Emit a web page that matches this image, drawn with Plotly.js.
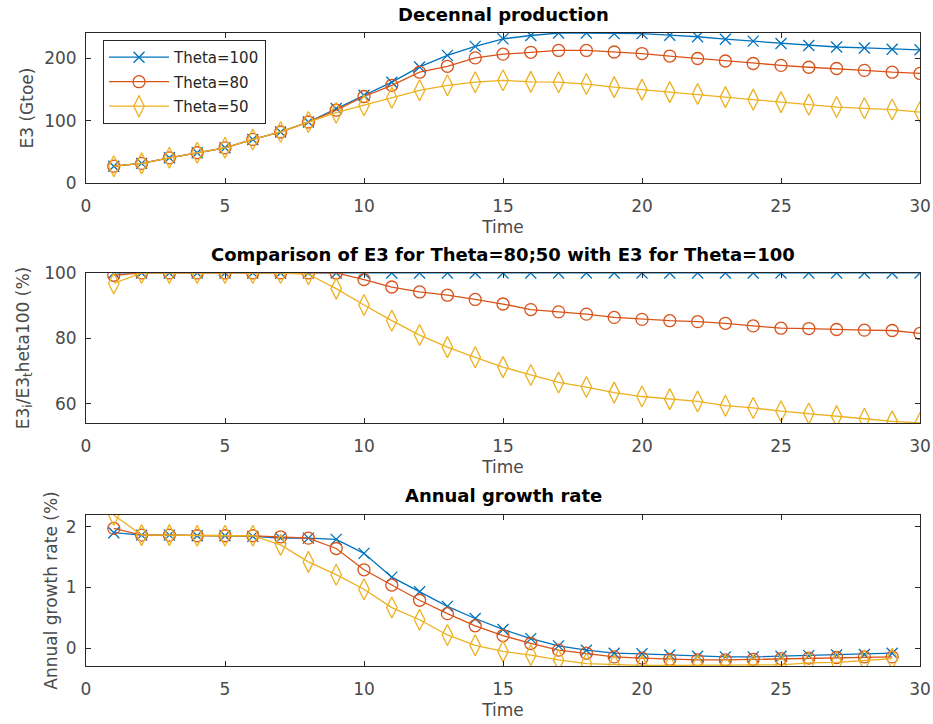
<!DOCTYPE html>
<html>
<head>
<meta charset="utf-8">
<script src="https://cdn.plot.ly/plotly-3.0.1.min.js"></script>
<style>html,body{margin:0;padding:0;background:#fff;}#chart{width:933px;height:724px;}</style>
</head>
<body>
<div id="chart"></div>
<script>
// ---- Data ----
const time = [1,2,3,4,5,6,7,8,9,10,11,12,13,14,15,16,17,18,19,20,21,22,23,24,25,26,27,28,29,30];
const timeGrowth = [1,2,3,4,5,6,7,8,9,10,11,12,13,14,15,16,17,18,19,20,21,22,23,24,25,26,27,28,29];
const seriesNames = ["Theta=100", "Theta=80", "Theta=50"];

// Decennal production E3 (Gtoe)
const e3Theta100 = [27,31.5,40.5,48.6,56.6,70,82,98,119.7,141,162,186.5,205,219.5,231.6,237,241,241,240,240,237.5,235,231,228,224,221,218.5,217,215,214];
const e3Theta80  = [27,31.5,40.5,48.6,56.6,70,82,98,117,139,157,178,187.5,201,207,210,213,213,210.5,208,204,200,196,192,189,186,184,181,178,176];
const e3Theta50  = [27,31.5,40.5,48.6,56.6,70,82,98,113,125,137,149,157,162,165,162.5,162,159,154,150,146,143,138,134,130,126,122,120,118,114];

// Comparison with Theta=100 (%)
const cmpTheta100 = [100,100,100,100,100,100,100,100,100,100,100,100,100,100,100,100,100,100,100,100,100,100,100,100,100,100,100,100,100,100];
const cmpTheta80  = [99.3,100,100,100,100,100,100,100,100,98,95.7,94.2,93.2,91.9,90.5,88.8,88.1,87.4,86.4,85.8,85.4,85.1,84.6,83.8,83.1,83,82.7,82.5,82.4,81.5];
const cmpTheta50  = [96.8,100,100,100,100,100,100,99.6,95.2,90.2,85.4,81,77.3,74.2,71.2,68.8,66.5,65.1,63.4,62.2,61.4,60.7,59.4,58.7,57.7,57,56.2,55.4,54.6,54.1];

// Annual growth rate (%)
const grTheta100 = [1.9,1.86,1.86,1.85,1.85,1.84,1.81,1.81,1.79,1.56,1.17,0.93,0.69,0.49,0.31,0.16,0.04,-0.03,-0.08,-0.09,-0.11,-0.13,-0.14,-0.14,-0.13,-0.12,-0.11,-0.1,-0.08];
const grTheta80  = [1.97,1.86,1.86,1.85,1.85,1.85,1.83,1.81,1.64,1.29,1.04,0.79,0.57,0.37,0.21,0.08,-0.03,-0.08,-0.14,-0.16,-0.18,-0.19,-0.19,-0.18,-0.17,-0.16,-0.15,-0.14,-0.14];
const grTheta50  = [2.19,1.86,1.86,1.85,1.85,1.85,1.7,1.42,1.21,0.97,0.67,0.47,0.22,0.05,-0.05,-0.11,-0.19,-0.25,-0.27,-0.28,-0.28,-0.28,-0.28,-0.28,-0.27,-0.24,-0.23,-0.2,-0.17];

const xTicks = [0,5,10,15,20,25,30];
const yTicksTop = [0,100,200];
const yTicksMid = [60,80,100];
const yTicksBot = [0,1,2];

const titles = ["Decennal production", "Comparison of E3 for Theta=80;50 with E3 for Theta=100", "Annual growth rate"];
const yTitles = ["E3 (Gtoe)", "E3<sub>i</sub>/E3<sub>t</sub>heta100 (%)", "Annual growth rate (%)"];
const xTitle = "Time";

// ---- Styles ----
const colors = ["#0072BD", "#D95319", "#EDB120"];
const symbols = ["x-thin-open", "circle-open", "diamond-tall-open"];
const msizes = [11, 12, 15];
const FONT = "DejaVu Sans, Verdana, sans-serif";
const AX = "#262626";
const TXT = "#4a4a4a";

function mk(x, y, i, xa, ya, showlegend) {
  return {
    x: x, y: y, type: "scatter", mode: "lines+markers",
    name: seriesNames[i], legendgroup: seriesNames[i], showlegend: showlegend,
    xaxis: xa, yaxis: ya,
    line: {color: colors[i], width: 1.3},
    marker: {symbol: symbols[i], size: msizes[i], color: colors[i], line: {color: colors[i], width: 1.3}}
  };
}

const data = [
  mk(time, e3Theta100, 0, "x", "y", true),
  mk(time, e3Theta80, 1, "x", "y", true),
  mk(time, e3Theta50, 2, "x", "y", true),
  mk(time, cmpTheta100, 0, "x2", "y2", false),
  mk(time, cmpTheta80, 1, "x2", "y2", false),
  mk(time, cmpTheta50, 2, "x2", "y2", false),
  mk(timeGrowth, grTheta100, 0, "x3", "y3", false),
  mk(timeGrowth, grTheta80, 1, "x3", "y3", false),
  mk(timeGrowth, grTheta50, 2, "x3", "y3", false)
];

function xax(anchor) {
  return {
    anchor: anchor, domain: [0, 1], range: [0, 30], tickvals: xTicks,
    ticks: "inside", ticklen: 5, tickcolor: AX, tickwidth: 1,
    showline: true, linecolor: AX, linewidth: 1, mirror: "allticks",
    showgrid: false, zeroline: false,
    tickfont: {family: FONT, size: 17, color: TXT},
    ticklabelstandoff: 8,
    title: {text: xTitle, font: {family: FONT, size: 17, color: TXT}, standoff: 5}
  };
}
function yax(anchor, dom, range, ticks, title, standoff) {
  return {
    anchor: anchor, domain: dom, range: range, tickvals: ticks,
    ticks: "inside", ticklen: 5, tickcolor: AX, tickwidth: 1,
    showline: true, linecolor: AX, linewidth: 1, mirror: "allticks",
    showgrid: false, zeroline: false,
    tickfont: {family: FONT, size: 17, color: TXT},
    ticklabelstandoff: 5,
    title: {text: title, font: {family: FONT, size: 17, color: TXT}, standoff: standoff}
  };
}

const layout = {
  width: 933, height: 724,
  margin: {l: 86, r: 13, t: 33, b: 58},
  paper_bgcolor: "#fff", plot_bgcolor: "#fff",
  showlegend: true,
  legend: {
    x: 0.0204, y: 0.989, xanchor: "left", yanchor: "top",
    bgcolor: "#fff", bordercolor: AX, borderwidth: 1,
    font: {family: FONT, size: 15, color: "#262626"},
    itemwidth: 60, tracegroupgap: 2
  },
  xaxis: xax("y"),
  yaxis: yax("x", [0.7630, 1], [0, 241], yTicksTop, yTitles[0], 6),
  xaxis2: xax("y2"),
  yaxis2: yax("x2", [0.3839, 0.6209], [54.1, 100], yTicksMid, yTitles[1], 10),
  xaxis3: xax("y3"),
  yaxis3: yax("x3", [0, 0.2385], [-0.29, 2.19], yTicksBot, yTitles[2], 3),
  annotations: [
    {text: titles[0], xref: "paper", yref: "paper", x: 0.5, y: 1.0292, xanchor: "center", yanchor: "middle", showarrow: false, font: {family: FONT, size: 18, color: "#000", weight: "bold"}},
    {text: titles[1], xref: "paper", yref: "paper", x: 0.5, y: 0.6493, xanchor: "center", yanchor: "middle", showarrow: false, font: {family: FONT, size: 18, color: "#000", weight: "bold"}},
    {text: titles[2], xref: "paper", yref: "paper", x: 0.5, y: 0.2686, xanchor: "center", yanchor: "middle", showarrow: false, font: {family: FONT, size: 18, color: "#000", weight: "bold"}}
  ]
};

Plotly.newPlot("chart", data, layout, {displayModeBar: false, staticPlot: true});
</script>
</body>
</html>
